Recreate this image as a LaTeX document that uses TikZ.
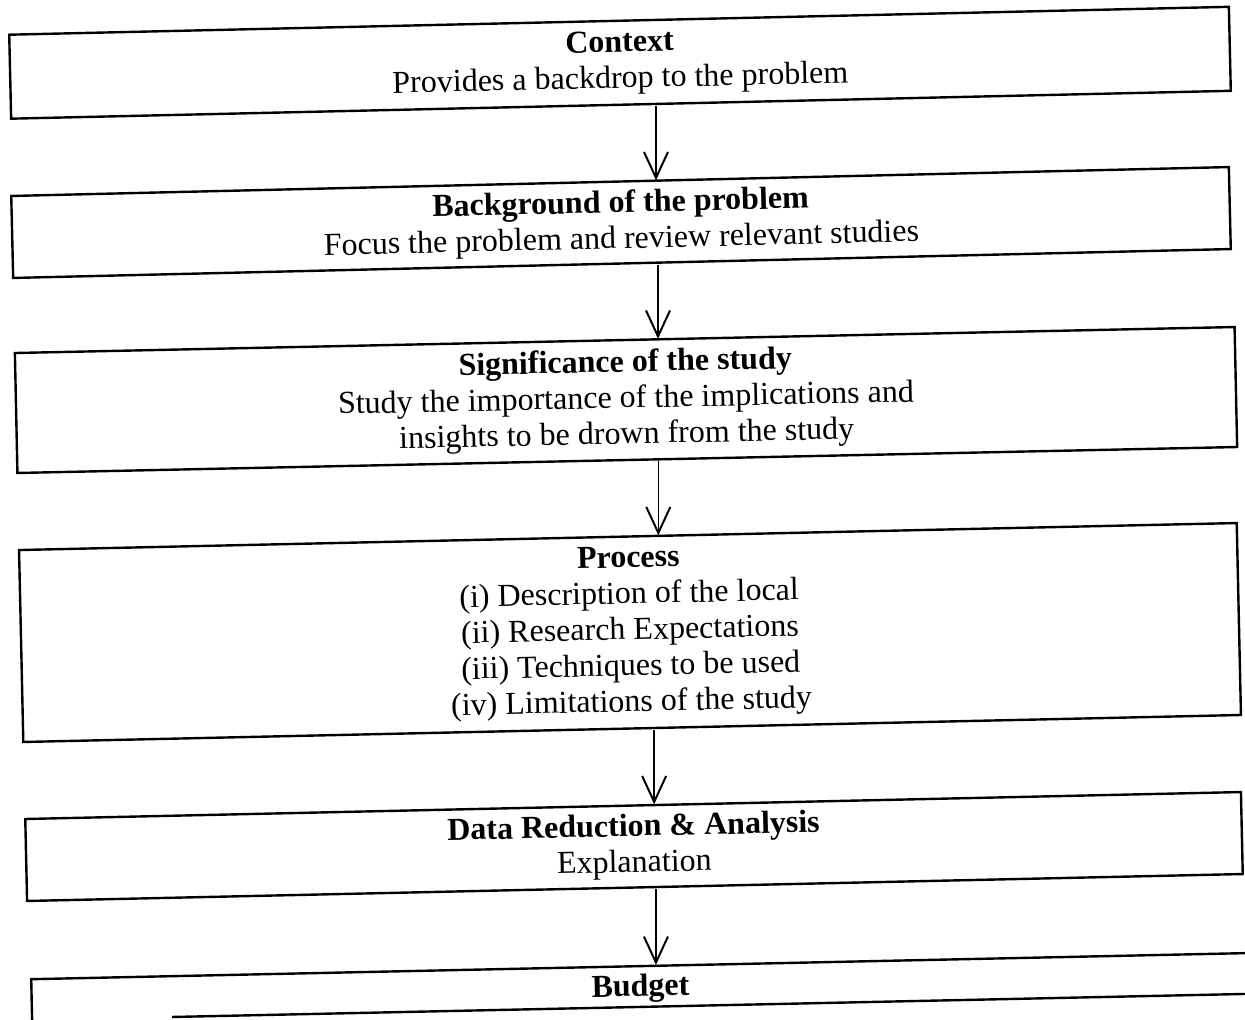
\documentclass[tikz,border=0pt]{standalone}
\usepackage{fontspec}
\setmainfont{Liberation Serif}
\usetikzlibrary{arrows.meta,calc}
\begin{document}
\begin{tikzpicture}[x=0.5pt,y=-0.5pt,
  boxnode/.style={draw, line width=1.2pt, align=center, inner sep=0pt, font=\fontsize{16}{18}\selectfont},
  arr/.style={line width=0.8pt, -{Straight Barb[length=13pt,width=12pt,line width=1pt]}}]
\useasboundingbox (0,0) rectangle (1245,1019);
\fill[white] (0,0) rectangle (1245,1019);
\clip (0,0) rectangle (1245,1019);

\node[boxnode, rotate=1.31, minimum width=610pt, minimum height=42pt] (ctx) at (620,62.75)
  {\textbf{Context}\\Provides a backdrop to the problem};
\node[boxnode, rotate=1.36, minimum width=609pt, minimum height=41pt] (bg) at (621,222.5)
  {\textbf{Background of the problem}\\Focus the problem and review relevant studies};
\node[boxnode, rotate=1.22, minimum width=610pt, minimum height=60pt] (sig) at (626,400)
  {\textbf{Significance of the study}\\Study the importance of the implications and\\insights to be drown from the study};
\node[boxnode, rotate=1.27, minimum width=609pt, minimum height=96pt] (proc) at (630,632.5)
  {\textbf{Process}\\(i) Description of the local\\(ii) Research Expectations\\(iii) Techniques to be used\\(iv) Limitations of the study};
\node[boxnode, rotate=1.27, minimum width=608pt, minimum height=41pt] (data) at (634,846.5)
  {\textbf{Data Reduction \& Analysis}\\Explanation};
\node[boxnode, rotate=1.23, anchor=north west, minimum width=609pt, text height=12pt, text depth=100pt, inner ysep=3pt] (bud) at (30,978)
  {\textbf{Budget}};
\begin{scope}[shift={(bud.north west)}, rotate=1.23]
  \draw[line width=1.2pt] (70.5pt,-21pt) -- (640pt,-21pt);
\end{scope}

\draw[arr] ([xshift=17.5pt]ctx.south) -- ([xshift=17.5pt]ctx.south |- bg.north);
\draw[arr] ([xshift=18pt]bg.south) -- ([xshift=18pt]bg.south |- sig.north);
\draw[arr] ([xshift=15.5pt]sig.south) -- ([xshift=15.5pt]sig.south |- proc.north);
\draw[arr] ([xshift=11pt]proc.south) -- ([xshift=11pt]proc.south |- data.north);
\draw[arr] ([xshift=10.5pt]data.south) -- ([xshift=10.5pt]data.south |- bud.north);
\end{tikzpicture}
\end{document}
